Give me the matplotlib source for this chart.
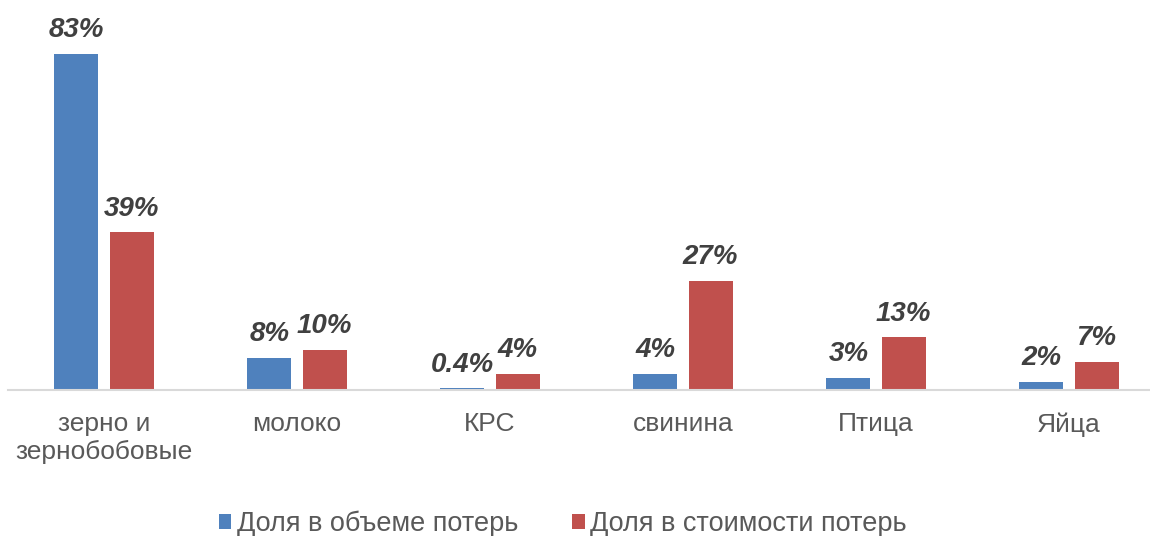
import matplotlib.pyplot as plt
import numpy as np

plt.rcParams['font.family'] = ['Liberation Sans', 'DejaVu Sans']

# Data
categories = ['зерно и\nзернобобовые', 'молоко', 'КРС', 'свинина', 'Птица', 'Яйца']
volume_share = [83, 8, 0.4, 4, 3, 2]
cost_share = [39, 10, 4, 27, 13, 7]
volume_labels = ['83%', '8%', '0.4%', '4%', '3%', '2%']
cost_labels = ['39%', '10%', '4%', '27%', '13%', '7%']
series_names = ['Доля в объеме потерь', 'Доля в стоимости потерь']
colors = ['#4F81BD', '#C0504D']

fig = plt.figure(figsize=(11.5, 5.36), dpi=100)
ax = fig.add_axes([0, 146 / 536, 1, 390 / 536])

x = np.arange(len(categories))
w = 0.228
off = 0.1425
b1 = ax.bar(x - off, volume_share, w, color=colors[0], label=series_names[0])
b2 = ax.bar(x + off, cost_share, w, color=colors[1], label=series_names[1])

for bars, labels in [(b1, volume_labels), (b2, cost_labels)]:
    for rect, lab in zip(bars, labels):
        ax.annotate(lab, (rect.get_x() + rect.get_width() / 2, rect.get_height()),
                    xytext=(0, 7.5), textcoords='offset points', ha='center', va='bottom',
                    fontsize=20, fontweight='bold', fontstyle='italic', color='#404040')

ax.set_xlim((0 - 7.5) / 193 - 0.5, (1150 - 7.5) / 193 - 0.5)
ax.set_ylim(0, 390 / 4.05)
ax.set_xticks(x)
ax.set_xticklabels(categories, fontsize=19, color='#595959', linespacing=1.2)
ax.tick_params(axis='x', length=0, pad=16)
ax.set_yticks([])
for s in ['top', 'right', 'left']:
    ax.spines[s].set_visible(False)
ax.spines['bottom'].set_color('#D9D9D9')
ax.spines['bottom'].set_linewidth(1.5)
ax.spines['bottom'].set_bounds(-0.5, 5.5)

leg = fig.legend(loc='center', bbox_to_anchor=(563 / 1150, 1 - 524 / 536), ncol=2,
                 frameon=False, fontsize=19.5, handlelength=0.45, handleheight=0.45,
                 handletextpad=0.2, columnspacing=2.0)
for t in leg.get_texts():
    t.set_color('#595959')

fig.savefig('out.png', dpi=100)
